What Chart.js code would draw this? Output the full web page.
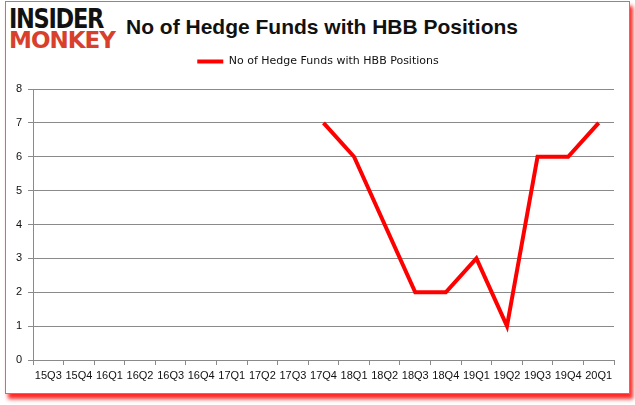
<!DOCTYPE html>
<html>
<head>
<meta charset="utf-8">
<script src="https://cdn.jsdelivr.net/npm/chart.js@4.4.1/dist/chart.umd.min.js"></script>
<style>
  body { margin: 0; width: 635px; height: 405px; background: #fff; position: relative; overflow: hidden; }
  .frame {
    position: absolute; left: 5px; top: 1px; width: 623px; height: 391px;
    border: 1px solid #8a8a8a; background: #fff;
    box-shadow: 3px 5px 4px rgba(255, 0, 0, 0.85);
  }
  .logo { position: absolute; left: 9px; font-family: "DejaVu Sans", sans-serif; font-weight: bold; white-space: nowrap; transform-origin: left top; }
  .logo.a { top: 6px; color: #111; font-size: 26px; line-height: 26px; letter-spacing: -1.5px; transform: scaleX(0.865); }
  .logo.b { top: 29px; color: #d8402c; font-size: 23px; line-height: 23px; letter-spacing: -1px; transform: scaleX(1.0); }
  .title { position: absolute; left: 126px; top: 15px; font-family: "Liberation Sans", sans-serif; font-weight: bold; font-size: 21px; color: #111; white-space: nowrap; }
  canvas { position: absolute; left: 0; top: 0; }
</style>
</head>
<body>
<div class="frame"></div>
<div class="logo a">INSIDER</div>
<div class="logo b">MONKEY</div>
<div class="title">No of Hedge Funds with HBB Positions</div>
<canvas id="c" width="635" height="405"></canvas>
<script>
// quarters on the x axis
const quarters = ['15Q3', '15Q4', '16Q1', '16Q2', '16Q3', '16Q4', '17Q1', '17Q2', '17Q3', '17Q4',
                  '18Q1', '18Q2', '18Q3', '18Q4', '19Q1', '19Q2', '19Q3', '19Q4', '20Q1'];
// hedge fund counts (no data before 17Q4)
const fundCounts = [null, null, null, null, null, null, null, null, null, 7,
                    6, 4, 2, 2, 3, 1, 6, 6, 7];
const yTicks = [0, 1, 2, 3, 4, 5, 6, 7, 8];

const seriesName = 'No of Hedge Funds with HBB Positions';

// push the plot area down below the legend, and nudge the legend right
const legendTweak = {
    id: 'legendTweak',
    beforeInit(chart) {
        const fit = chart.legend.fit;
        chart.legend.fit = function () {
            fit.bind(chart.legend)();
            this.height += 12;
        };
    },
    afterLayout(chart) {
        chart.legend.left += 11;
        chart.legend.right += 11;
    }
};

const ctx = document.getElementById('c').getContext('2d');
new Chart(ctx, {
    type: 'line',
    data: {
        labels: quarters,
        datasets: [{
            label: seriesName,
            data: fundCounts,
            borderColor: '#ff0000',
            backgroundColor: '#ff0000',
            borderWidth: 4,
            pointRadius: 0,
            tension: 0,
            spanGaps: false
        }]
    },
    options: {
        responsive: false,
        animation: false,
        layout: { padding: { top: 50, right: 21, left: 0, bottom: 0 } },
        plugins: {
            legend: {
                position: 'top',
                labels: {
                    usePointStyle: true,
                    pointStyle: 'line',
                    pointStyleWidth: 26,
                    padding: 6,
                    color: '#111',
                    font: { family: 'DejaVu Sans', size: 11 }
                }
            },
            tooltip: { enabled: false }
        },
        scales: {
            x: {
                offset: true,
                grid: { offset: true, drawOnChartArea: false, drawTicks: true, tickLength: 5, color: '#8a8a8a' },
                border: { color: '#8a8a8a' },
                ticks: { color: '#111', padding: 4, maxRotation: 0, autoSkip: false, font: { family: 'Liberation Sans', size: 11 } },
                afterFit(scale) { scale.height = 45; }
            },
            y: {
                min: 0,
                max: 8,
                afterBuildTicks(scale) { scale.ticks = yTicks.map(v => ({ value: v })); },
                grid: { color: '#8a8a8a', tickLength: 5 },
                border: { color: '#8a8a8a' },
                ticks: { color: '#111', padding: 6, font: { family: 'Liberation Sans', size: 11 } },
                afterFit(scale) { scale.width = 33; }
            }
        }
    },
    plugins: [legendTweak]
});
</script>
</body>
</html>
